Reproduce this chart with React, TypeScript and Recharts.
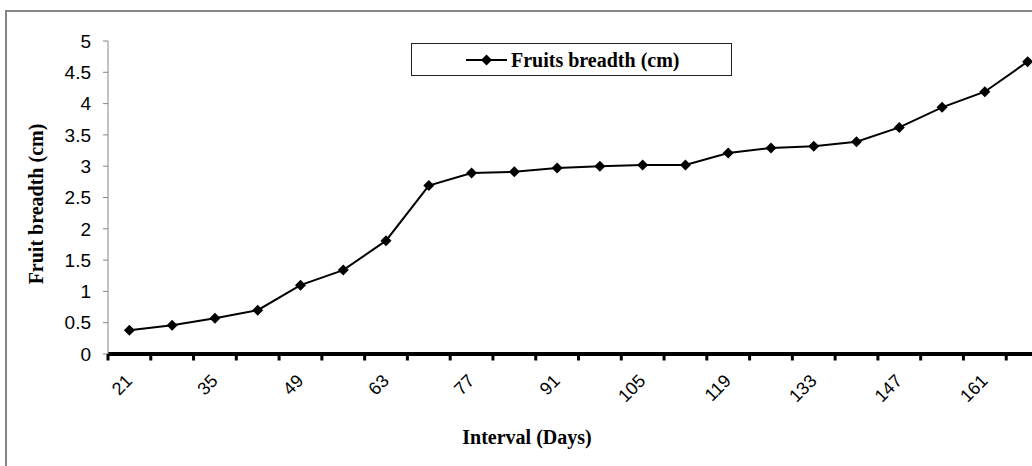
import React from 'react';
import { LineChart, Line, XAxis, YAxis, Legend } from 'recharts';

const days = ['21', '28', '35', '42', '49', '56', '63', '70', '77', '84', '91', '98', '105', '112', '119', '126', '133', '140', '147', '154', '161', '168'];
const breadth = [0.38, 0.46, 0.57, 0.70, 1.10, 1.34, 1.81, 2.69, 2.89, 2.91, 2.97, 3.00, 3.02, 3.02, 3.21, 3.29, 3.32, 3.39, 3.62, 3.94, 4.19, 4.67];
const yTicks = [0, 0.5, 1, 1.5, 2, 2.5, 3, 3.5, 4, 4.5, 5];
const seriesName = 'Fruits breadth (cm)';

const data = days.map((d, i) => ({ day: d, breadth: breadth[i] }));

// layout
const CHART_W = 1070;
const CHART_H = 466;
const MARGIN = { top: 41, right: 21, bottom: 52, left: 48 };
const Y_AXIS_W = 60;
const X_AXIS_H = 60;
const PLOT_W = CHART_W - MARGIN.left - MARGIN.right - Y_AXIS_W;
const BAND = PLOT_W / days.length;

const SANS = '"Liberation Sans", Arial, sans-serif';
const SERIF = '"Liberation Serif", "Times New Roman", serif';

const Diamond = ({ cx, cy, r = 5.5 }: { cx: number; cy: number; r?: number }) => (
  <polygon points={`${cx},${cy - r} ${cx + r},${cy} ${cx},${cy + r} ${cx - r},${cy}`} fill="#000" />
);

// category labels on every second day, tick marks between categories
const XTick = (props: any) => {
  const { x, y, payload } = props;
  const idx = props.index ?? payload.index;
  const half = BAND / 2;
  const lx = x + 4;
  const ly = y + 28;
  return (
    <g>
      <rect x={x - half - 1.5} y={y} width={3} height={6.5} fill="#000" />
      {idx === days.length - 1 && (
        <rect x={x + half - 1.5} y={y} width={3} height={6.5} fill="#000" />
      )}
      {idx % 2 === 0 && (
        <text x={lx} y={ly} transform={`rotate(-45, ${lx}, ${ly})`} textAnchor="end"
          fontFamily={SANS} fontSize={18} fill="#000">
          {payload.value}
        </text>
      )}
    </g>
  );
};

const LegendBox = () => (
  <div style={{ width: 319, height: 31, border: '1.5px solid #222', background: '#fff', position: 'relative' }}>
    <svg width={319} height={31} style={{ position: 'absolute', left: 0, top: 0 }}>
      <line x1={54} x2={95} y1={16} y2={16} stroke="#000" strokeWidth={2} />
      <Diamond cx={74.5} cy={16} />
      <text x={99} y={23} fontFamily={SERIF} fontWeight="bold" fontSize={20} fill="#000">{seriesName}</text>
    </svg>
  </div>
);

const App = () => {
  return (
    <div style={{ position: 'fixed', left: 0, top: 0, width: 1032, height: 466, overflow: 'hidden', background: '#fff' }}>
      <div style={{ position: 'absolute', left: 5, top: 10, width: 1100, height: 600, border: '2px solid #858585', boxSizing: 'border-box' }} />
      <div style={{ position: 'absolute', left: 0, top: 0 }}>
        <LineChart width={CHART_W} height={CHART_H} data={data} margin={MARGIN}>
          <XAxis
            dataKey="day"
            interval={0}
            height={X_AXIS_H}
            padding={{ left: BAND / 2, right: BAND / 2 }}
            axisLine={{ stroke: '#000', strokeWidth: 4 }}
            tickLine={false}
            tickSize={0}
            tickMargin={0}
            tick={<XTick />}
            label={(p: any) => (
              <text x={527} y={444} textAnchor="middle" fontFamily={SERIF} fontWeight="bold" fontSize={20} fill="#000">
                Interval (Days)
              </text>
            )}
          />
          <YAxis
            width={Y_AXIS_W}
            domain={[0, 5]}
            ticks={yTicks}
            interval={0}
            axisLine={{ stroke: '#868686' }}
            tickLine={{ stroke: '#868686' }}
            tickSize={5}
            tickMargin={12}
            tick={{ fontFamily: SANS, fontSize: 19, fill: '#000' }}
            label={(p: any) => (
              <text x={43} y={204} transform="rotate(-90, 43, 204)" textAnchor="middle"
                fontFamily={SERIF} fontWeight="bold" fontSize={20} fill="#000">
                Fruit breadth (cm)
              </text>
            )}
          />
          <Legend
            layout="vertical"
            align="center"
            verticalAlign="middle"
            wrapperStyle={{ left: 411, top: 43, width: 321, height: 33 }}
            content={() => <LegendBox />}
          />
          <Line
            type="linear"
            dataKey="breadth"
            name={seriesName}
            stroke="#000"
            strokeWidth={2}
            isAnimationActive={false}
            dot={(p: any) => <Diamond key={p.index} cx={p.cx} cy={p.cy} />}
            activeDot={false}
          />
        </LineChart>
      </div>
    </div>
  );
};

export default App;
